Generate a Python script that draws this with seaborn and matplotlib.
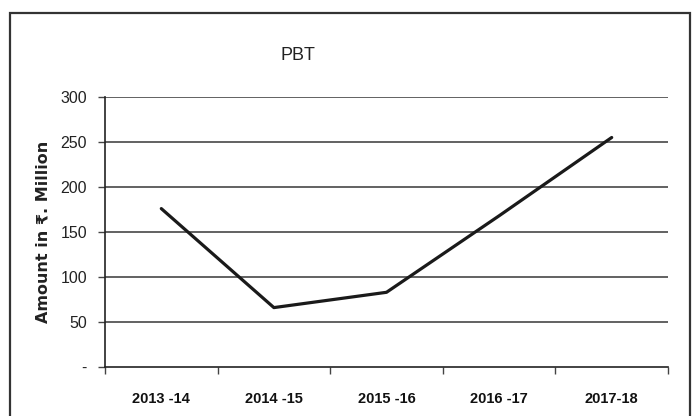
import matplotlib
matplotlib.use("Agg")
import matplotlib.pyplot as plt
import seaborn as sns
import pandas as pd
from matplotlib.patches import Rectangle

years = ["2013 -14", "2014 -15", "2015 -16", "2016 -17", "2017-18"]
pbt = [176, 66, 83, 168, 255]
yticks = [0, 50, 100, 150, 200, 250, 300]
ytick_labels = ["-", "50", "100", "150", "200", "250", "300"]

sns.set_theme(style="white")
plt.rcParams["font.family"] = ["Liberation Sans", "DejaVu Sans"]

df = pd.DataFrame({"Year": years, "PBT": pbt})

fig = plt.figure(figsize=(6.95, 4.16), dpi=100)
ax = fig.add_axes([105/695, 49/416, 563/695, 270/416])

sns.lineplot(data=df, x="Year", y="PBT", ax=ax, color="#1a1a1a", linewidth=2.3, sort=False)

ax.set_xlim(-0.5, len(years) - 0.5)
ax.set_ylim(0, 300)
ax.set_yticks(yticks)
ax.set_yticklabels(ytick_labels, fontsize=11.5, color="#222222")
ax.set_xticks(range(len(years)))
ax.set_xticklabels(years, fontsize=10.5, fontweight="bold", color="#111111")
ax.set_xticks([i - 0.5 for i in range(len(years) + 1)], minor=True)
ax.tick_params(axis="x", which="major", length=0, pad=18)
ax.tick_params(axis="x", which="minor", length=5, width=1, color="#444444", direction="out", bottom=True)
ax.tick_params(axis="y", which="major", length=5, width=1, color="#444444", direction="out", left=True, pad=8)

for v in yticks[1:]:
    ax.axhline(v, color="#555555", linewidth=1.3, zorder=0)

for s in ["top", "right"]:
    ax.spines[s].set_visible(False)
for s in ["left", "bottom"]:
    ax.spines[s].set_visible(True)
    ax.spines[s].set_color("#222222")
    ax.spines[s].set_linewidth(1.2)

ax.set_xlabel("")
ax.set_ylabel("Amount in ₹. Million", fontsize=11.5, fontweight="bold",
              family=["DejaVu Sans"], color="#222222")
ax.yaxis.set_label_coords(-54/563, 0.5)

fig.text(298/695, 1 - 55/416, "PBT", fontsize=13, color="#222222",
         ha="center", va="center", family=["Liberation Sans", "DejaVu Sans"])

fig.patches.append(Rectangle((10/695, -0.1), 680/695, 1.1 - 13/416,
                             transform=fig.transFigure, fill=False,
                             edgecolor="#333333", linewidth=1.6))

fig.savefig("out.png", dpi=100)
